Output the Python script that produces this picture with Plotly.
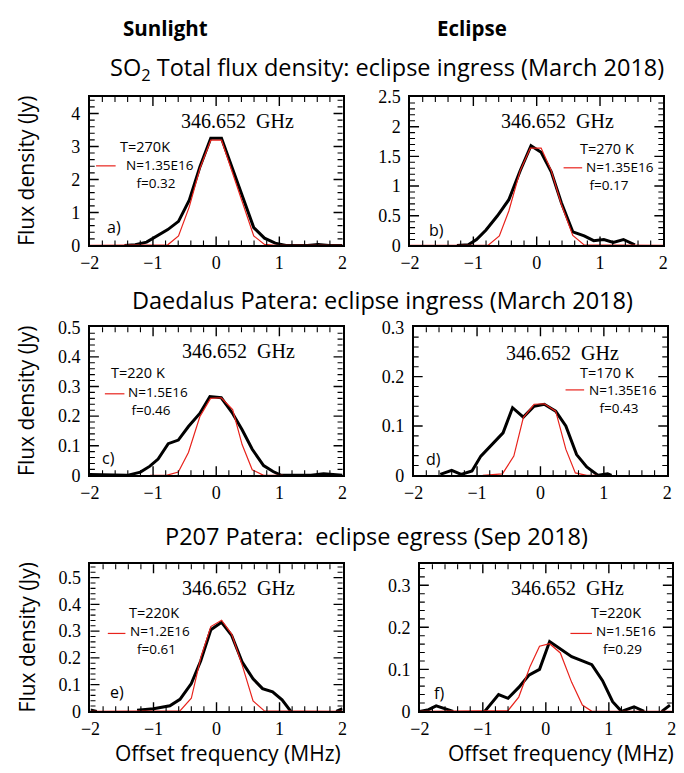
import plotly.graph_objects as go

# ---- observed spectra (black) and model spectra (red), offset frequency in MHz, flux in Jy ----
A_X_OBS = [-1.45, -1.28, -1.10, -0.93, -0.765, -0.595, -0.425, -0.255, -0.085, 0.085, 0.255,
           0.425, 0.595, 0.765, 0.935, 1.105, 1.275, 1.445, 1.615, 1.785, 2.0]
A_Y_OBS = [0.0, 0.02, 0.10, 0.28, 0.48, 0.73, 1.37, 2.39, 3.25, 3.25, 2.34,
           1.41, 0.54, 0.22, 0.07, 0.0, 0.0, 0.0, 0.03, 0.0, 0.0]
A_X_MOD = [-2.0, -0.935, -0.765, -0.595, -0.425, -0.255, -0.085, 0.085, 0.255, 0.425, 0.595,
           0.765, 0.935, 2.0]
A_Y_MOD = [0.0, 0.0, 0.02, 0.29, 1.17, 2.34, 3.19, 3.19, 2.24, 1.22, 0.29, 0.03, 0.0, 0.0]

B_X_OBS = [-1.26, -1.08, -0.95, -0.80, -0.62, -0.44, -0.26, -0.09, 0.07, 0.23, 0.39, 0.57,
           0.75, 0.90, 1.06, 1.21, 1.37, 1.55]
B_Y_OBS = [0.0, 0.01, 0.10, 0.26, 0.50, 0.77, 1.26, 1.68, 1.57, 1.24, 0.72, 0.23,
           0.16, 0.08, 0.10, 0.05, 0.10, 0.01]
B_X_MOD = [-2.0, -0.77, -0.59, -0.44, -0.26, -0.10, 0.07, 0.23, 0.39, 0.57, 0.75, 2.0]
B_Y_MOD = [0.0, 0.0, 0.16, 0.58, 1.26, 1.64, 1.64, 1.26, 0.69, 0.17, 0.01, 0.0]

C_X_OBS = [-2.0, -1.41, -1.20, -1.05, -0.92, -0.76, -0.60, -0.44, -0.26, -0.10, 0.08, 0.26,
           0.41, 0.57, 0.75, 0.90, 1.03, 1.50, 1.70, 1.90, 2.0]
C_Y_OBS = [0.003, 0.0, 0.011, 0.031, 0.055, 0.107, 0.119, 0.165, 0.209, 0.266, 0.262, 0.209,
           0.154, 0.088, 0.033, 0.013, 0.0, 0.0, 0.005, 0.0, 0.0]
C_X_MOD = [-1.05, -0.79, -0.60, -0.44, -0.26, -0.09, 0.08, 0.26, 0.41, 0.57, 0.75, 1.06]
C_Y_MOD = [0.0, 0.0, 0.011, 0.077, 0.198, 0.260, 0.262, 0.222, 0.104, 0.019, 0.0, 0.0]

D_X_OBS = [-1.58, -1.40, -1.25, -1.08, -0.94, -0.76, -0.59, -0.44, -0.27, -0.10, 0.06, 0.24,
           0.40, 0.57, 0.73, 0.91, 1.06, 1.12]
D_Y_OBS = [0.002, 0.010, 0.002, 0.009, 0.039, 0.063, 0.086, 0.137, 0.118, 0.140, 0.144, 0.130,
           0.100, 0.042, 0.017, 0.0, 0.003, 0.0]
D_X_MOD = [-0.91, -0.60, -0.42, -0.27, -0.10, 0.06, 0.24, 0.40, 0.55, 0.73, 0.89]
D_Y_MOD = [0.0, 0.003, 0.039, 0.117, 0.144, 0.145, 0.130, 0.053, 0.005, 0.0, 0.0]

E_X_OBS = [-2.0, -1.9, None, -1.26, -1.0, -0.74, -0.58, -0.40, -0.25, -0.09, 0.08, 0.24, 0.41,
           0.58, 0.73, 0.89, 1.04, 1.18, None, 1.9, 2.0]
E_Y_OBS = [0.005, 0.0, None, 0.004, 0.010, 0.021, 0.045, 0.104, 0.189, 0.305, 0.333, 0.284, 0.183,
           0.122, 0.085, 0.073, 0.043, 0.0, None, 0.0, 0.010]
E_X_MOD = [-2.0, -0.74, -0.58, -0.40, -0.25, -0.09, 0.08, 0.24, 0.41, 0.58, 0.76, 2.0]
E_Y_MOD = [0.0, 0.0, 0.002, 0.049, 0.201, 0.317, 0.341, 0.289, 0.171, 0.039, 0.002, 0.0]

F_X_OBS = [-2.0, -1.86, -1.74, -1.57, -1.47, None, -0.97, -0.75, -0.60, -0.43, -0.27, -0.10,
           0.06, 0.23, 0.41, 0.58, 0.73, 0.90, 1.06, 1.20, 1.40, 1.56, None, 1.84, 1.97]
F_Y_OBS = [0.0, 0.004, 0.013, 0.004, 0.0, None, 0.0, 0.040, 0.031, 0.057, 0.086, 0.100,
           0.166, 0.149, 0.130, 0.120, 0.111, 0.073, 0.023, 0.0, 0.011, 0.0, None, 0.0, 0.015]
F_X_MOD = [-2.0, -0.60, -0.43, -0.25, -0.10, 0.06, 0.23, 0.41, 0.58, 0.73, 2.0]
F_Y_MOD = [0.0, 0.002, 0.034, 0.107, 0.155, 0.161, 0.139, 0.069, 0.015, 0.0, 0.0]

# ---- panel settings ----
PANEL_KEYS = ["a", "b", "c", "d", "e", "f"]
Y_MAX = [4.5, 2.5, 0.5, 0.3, 0.55, 0.35]
Y_MAJOR = [1, 0.5, 0.1, 0.1, 0.1, 0.1]
Y_MINOR = [0.2, 0.1, 0.02, 0.02, 0.02, 0.02]
X_RANGE = [-2, 2]
X_MAJOR = 1
X_MINOR = 0.2
LINE_LABEL = "346.652\u00a0\u00a0GHz"
T_LABELS = ["T=270K", "T=270 K", "T=220 K", "T=170 K", "T=220K", "T=220K"]
N_LABELS = ["N=1.35E16", "N=1.35E16", "N=1.5E16", "N=1.35E16", "N=1.2E16", "N=1.5E16"]
F_LABELS = ["f=0.32", "f=0.17", "f=0.46", "f=0.43", "f=0.61", "f=0.29"]
F_INDENT = [3, 1, 1, 3, 2, 2]
HEADERS = ["Sunlight", "Eclipse"]
ROW_TITLES = ["SO<sub>2</sub> Total flux density: eclipse ingress (March 2018)",
              "Daedalus Patera: eclipse ingress (March 2018)",
              "P207 Patera:  eclipse egress (Sep 2018)"]
Y_TITLE = "Flux density (Jy)"
X_TITLE = "Offset frequency (MHz)"

OBS = [(A_X_OBS, A_Y_OBS), (B_X_OBS, B_Y_OBS), (C_X_OBS, C_Y_OBS),
       (D_X_OBS, D_Y_OBS), (E_X_OBS, E_Y_OBS), (F_X_OBS, F_Y_OBS)]
MOD = [(A_X_MOD, A_Y_MOD), (B_X_MOD, B_Y_MOD), (C_X_MOD, C_Y_MOD),
       (D_X_MOD, D_Y_MOD), (E_X_MOD, E_Y_MOD), (F_X_MOD, F_Y_MOD)]

W, H = 684, 773

# plot-box pixel boxes: (left, right, top, bottom)
BOXES = [(81.5, 340, 89.3, 241.7), (409, 668, 89.3, 241.7),
         (81.7, 340, 325.7, 477.7), (412.7, 672, 325.7, 477.7),
         (82.3, 340, 569, 720), (419, 676.7, 569, 720)]

MAJOR_LEN, MINOR_LEN = 9, 5
MAJOR_W, MINOR_W = 1.4, 1.1


def px(x):
    return x / W


def py(y):
    return 1 - y / H


SANS = "Open Sans"
SERIF = "Liberation Serif"
RED = "#e8231c"

fig = go.Figure()
fig.update_layout(width=W, height=H, margin=dict(l=0, r=0, t=0, b=0),
                  paper_bgcolor="white", plot_bgcolor="white", showlegend=False)

shapes = []


def tick_values(lo, hi, minor, major):
    """Interior minor/major tick positions between lo and hi."""
    ratio = int(round(major / minor))
    k0 = int(round(lo / minor))
    out = []
    k = k0 + 1
    while k * minor < hi - 1e-9:
        out.append((round(k * minor, 6), k % ratio == 0))
        k += 1
    return out


def add_box_ticks(n, ymax, ymin_step, ymaj_step):
    xr, yr = "x" + n, "y" + n
    # ticks along bottom and top edges, pointing into the box
    for v, is_major in tick_values(X_RANGE[0], X_RANGE[1], X_MINOR, X_MAJOR):
        ln = MAJOR_LEN if is_major else MINOR_LEN
        lw = MAJOR_W if is_major else MINOR_W
        for anchor, sign in ((0, 1), (1, -1)):
            shapes.append(dict(type="line", xref=xr, yref=yr + " domain", x0=v, x1=v,
                               ysizemode="pixel", yanchor=anchor, y0=0, y1=sign * ln,
                               layer="above", line=dict(color="black", width=lw)))
    # ticks along left and right edges
    for v, is_major in tick_values(0, ymax, ymin_step, ymaj_step):
        ln = MAJOR_LEN if is_major else MINOR_LEN
        lw = MAJOR_W if is_major else MINOR_W
        for anchor, sign in ((0, 1), (1, -1)):
            shapes.append(dict(type="line", xref=xr + " domain", yref=yr, y0=v, y1=v,
                               xsizemode="pixel", xanchor=anchor, x0=0, x1=sign * ln,
                               layer="above", line=dict(color="black", width=lw)))


for i, key in enumerate(PANEL_KEYS):
    n = "" if i == 0 else str(i + 1)
    l, r, t, b = BOXES[i]
    fig.add_trace(go.Scatter(x=OBS[i][0], y=OBS[i][1], mode="lines",
                             line=dict(color="black", width=3), xaxis="x" + n, yaxis="y" + n,
                             connectgaps=False))
    fig.add_trace(go.Scatter(x=MOD[i][0], y=MOD[i][1], mode="lines",
                             line=dict(color=RED, width=1.2), xaxis="x" + n, yaxis="y" + n))
    common = dict(ticks="", mirror=True, showline=True, linecolor="black", linewidth=1.6,
                  showgrid=False, zeroline=False,
                  tickfont=dict(family=SERIF, size=18, color="black"))
    xa = dict(common, domain=[px(l), px(r)], range=X_RANGE, dtick=X_MAJOR, tick0=0,
              anchor="y" + n, ticklabelstandoff=0)
    ya = dict(common, domain=[py(b), py(t)], range=[0, Y_MAX[i]],
              dtick=Y_MAJOR[i], tick0=0, anchor="x" + n, ticklabelstandoff=4)
    fig.update_layout({"xaxis" + n: xa, "yaxis" + n: ya})
    add_box_ticks(n, Y_MAX[i], Y_MINOR[i], Y_MAJOR[i])

ann = []


def text(x, y, s, size, family=SANS, xanchor="center", angle=0, align="center"):
    ann.append(dict(x=px(x), y=py(y), xref="paper", yref="paper", text=s, showarrow=False,
                    xanchor=xanchor, yanchor="middle", textangle=angle, align=align,
                    font=dict(family=family, size=size, color="black")))


# column headers and row titles
text(159, 18, "<b>%s</b>" % HEADERS[0], 20.5)
text(472, 18, "<b>%s</b>" % HEADERS[1], 20.5)
text(385, 60, ROW_TITLES[0], 23.5)
text(381, 298, ROW_TITLES[1], 23.5)
text(375, 540, ROW_TITLES[2], 23.5)

# line frequency labels
GHZ_POS = [(232.5, 114), (560, 114), (233.5, 350), (564.5, 352), (233.5, 593), (570.5, 593)]
for (x, y) in GHZ_POS:
    text(x, y, LINE_LABEL, 20, family=SERIF)

# model parameter keys: T label, red key line, N and f labels
T_POS = [(110, 140), (581, 142), (101, 372), (581, 372), (120, 618), (592, 618)]
KEY_LINE = [(88, 108, 160), (566, 585, 162), (97, 117, 394), (568, 587, 390),
            (100, 118, 640), (573, 595, 640)]
NF_POS = [(117, 168.5), (587, 170.5), (119, 401.5), (590, 399.5), (121, 647), (597, 647)]
for i in range(6):
    text(T_POS[i][0], T_POS[i][1], T_LABELS[i], 14.5, xanchor="left")
    nf = N_LABELS[i] + "<br>" + "\u00a0" * F_INDENT[i] + F_LABELS[i]
    text(NF_POS[i][0], NF_POS[i][1], nf, 13.5, xanchor="left", align="left")
    x0, x1, y = KEY_LINE[i]
    shapes.append(dict(type="line", xref="paper", yref="paper", x0=px(x0), x1=px(x1),
                       y0=py(y), y1=py(y), opacity=1, line=dict(color=RED, width=1.2)))

# panel letters
LETTER_POS = [(97, 223), (426, 226), (92, 460), (423, 461), (100, 700), (431, 701)]
for i, (x, y) in enumerate(LETTER_POS):
    text(x, y, PANEL_KEYS[i] + ")", 16, xanchor="left")

# axis titles
for (t, b) in [(89.3, 241.7), (325.7, 477.7), (569, 720)]:
    text(17, (t + b) / 2, Y_TITLE, 21, angle=-90)
text(223, 763, X_TITLE, 21)
text(563, 763, X_TITLE, 21)

fig.update_layout(annotations=ann, shapes=shapes)
fig.write_html("out.html")
